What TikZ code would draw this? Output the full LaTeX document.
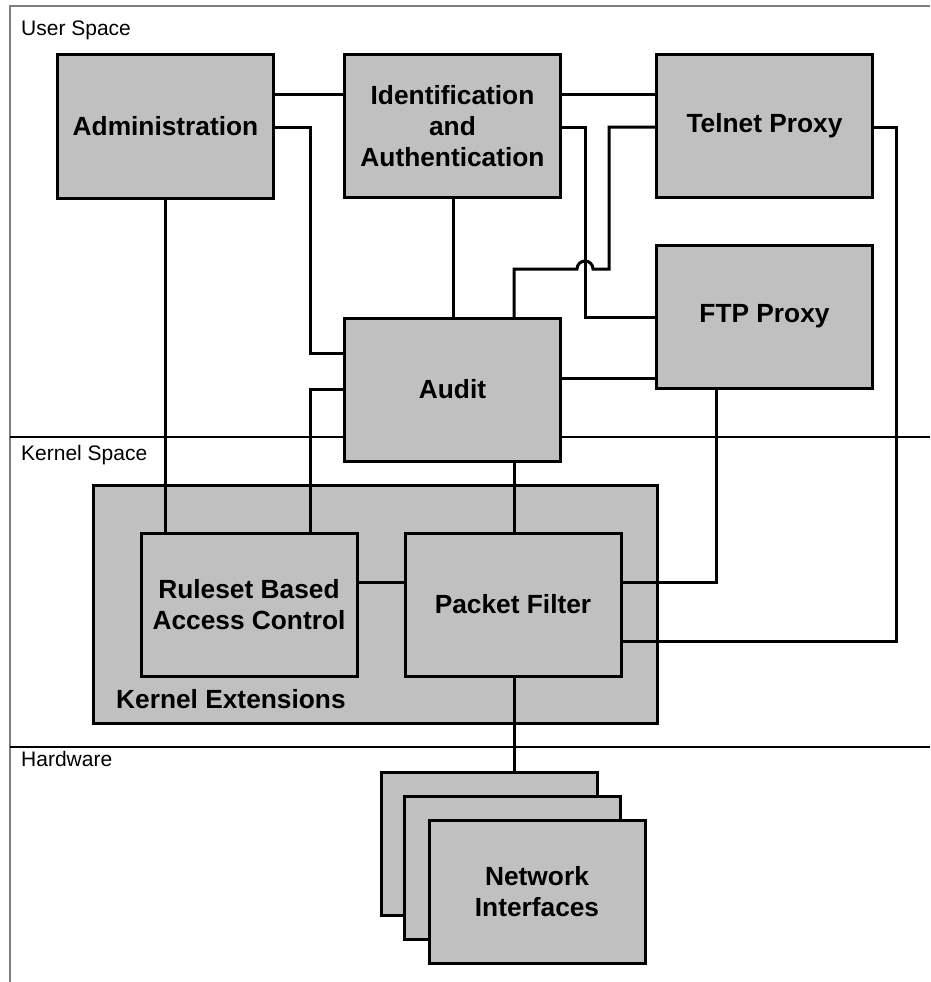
\documentclass[tikz,border=0pt]{standalone}
\usepackage{fontspec}
\setmainfont{Liberation Sans}
\begin{document}
\begin{tikzpicture}[x=1pt,y=-1pt,
  blk/.style={draw=black,fill=boxgray,line width=3pt,rectangle,inner sep=0pt,outer sep=0pt,
    minimum width=216pt,minimum height=143pt,align=center,
    font=\bfseries\fontsize{26.3}{31}\selectfont},
  conn/.style={draw=black,line width=3pt,line cap=rect},
  lane/.style={draw=black,line width=1.2pt},
  lanelabel/.style={anchor=base west,inner sep=0pt,font=\fontsize{21}{25}\selectfont}]
\definecolor{boxgray}{HTML}{C0C0C0}
\useasboundingbox (0,0) rectangle (930,982);
% frame
\draw[gray,line width=2pt] (930,6) -- (10,6) -- (10,982);
\draw[lane] (10,437) -- (930,437);
\draw[lane] (10,747) -- (930,747);
\node[lanelabel] (lu) at (21,36) {User Space};
\node[lanelabel] (lk) at (21,460) {Kernel Space};
\node[lanelabel] (lh) at (21,766) {Hardware};
% kernel extensions container
\node[blk,minimum width=564pt,minimum height=238pt] (ke) at (375,604) {};
\node[anchor=base west,inner sep=0pt,font=\bfseries\fontsize{26.3}{31}\selectfont] (kel) at (116,708) {Kernel Extensions};
% helper coordinates
\coordinate (r94) at (0,94);
\coordinate (r127) at (0,127);
\coordinate (r353) at (0,353);
\coordinate (r389) at (0,389);
\coordinate (r378) at (0,378);
\coordinate (r317) at (0,317);
\coordinate (r269) at (0,269);
\coordinate (r582) at (0,582);
\coordinate (r641) at (0,641);
\coordinate (c165) at (165,0);
\coordinate (c310) at (310,0);
\coordinate (c453) at (453,0);
\coordinate (c514) at (514,0);
\coordinate (c585) at (585,0);
\coordinate (c609) at (609,0);
\coordinate (c716) at (716,0);
\coordinate (c896) at (896,0);
% node positions (invisible first pass for anchors)
\path
  node[blk,draw=none,fill=none] (admin) at (165.5,126.5) {}
  node[blk,draw=none,fill=none] (ident) at (452.5,126) {}
  node[blk,draw=none,fill=none] (telnet) at (764.5,126) {}
  node[blk,draw=none,fill=none] (ftp) at (764.5,316.5) {}
  node[blk,draw=none,fill=none] (audit) at (452.5,389.5) {}
  node[blk,draw=none,fill=none] (rule) at (249,604.5) {}
  node[blk,draw=none,fill=none] (pf) at (513,604.5) {}
  node[blk,draw=none,fill=none] (nib) at (489.5,843.5) {};
% connectors
\draw[conn] (admin.east |- r94) -- (ident.west |- r94);
\draw[conn] (ident.east |- r94) -- (telnet.west |- r94);
\draw[conn] (admin.east |- r127) -| (c310 |- r353) -- (audit.west |- r353);
\draw[conn] (audit.west |- r389) -| (c310 |- rule.north);
\draw[conn] (c165 |- admin.south) -- (c165 |- rule.north);
\draw[conn] (c453 |- ident.south) -- (c453 |- audit.north);
\draw[conn] (ident.east |- r127) -| (c585 |- r317) -- (ftp.west |- r317);
\draw[conn] (telnet.west |- r127) -| (c609 |- r269) -- (593,269)
   arc[start angle=0,end angle=180,radius=8pt] -- (c514 |- r269) -- (c514 |- audit.north);
\draw[conn] (telnet.east |- r127) -| (c896 |- r641) -- (pf.east |- r641);
\draw[conn] (c514 |- audit.south) -- (c514 |- pf.north);
\draw[conn] (rule.east |- r582) -- (pf.west |- r582);
\draw[conn] (c716 |- ftp.south) |- (pf.east |- r582);
\draw[conn] (audit.east |- r378) -- (ftp.west |- r378);
\draw[conn] (c514 |- pf.south) -- (c514 |- nib.north);
% boxes
\node[blk] (adminb) at (admin) {Administration};
\node[blk] (identb) at (ident) {Identification\\and\\Authentication};
\node[blk] (telnetb) at (telnet) {Telnet Proxy};
\node[blk] (ftpb) at (ftp) {FTP Proxy};
\node[blk] (auditb) at (audit) {Audit};
\node[blk] (ruleb) at (rule) {Ruleset Based\\Access Control};
\node[blk] (pfb) at (pf) {Packet Filter};
\node[blk] (nibb) at (nib) {};
\node[blk] (nim) at (512.5,868) {};
\node[blk] (nif) at (537,891.5) {Network\\Interfaces};
\end{tikzpicture}
\end{document}
